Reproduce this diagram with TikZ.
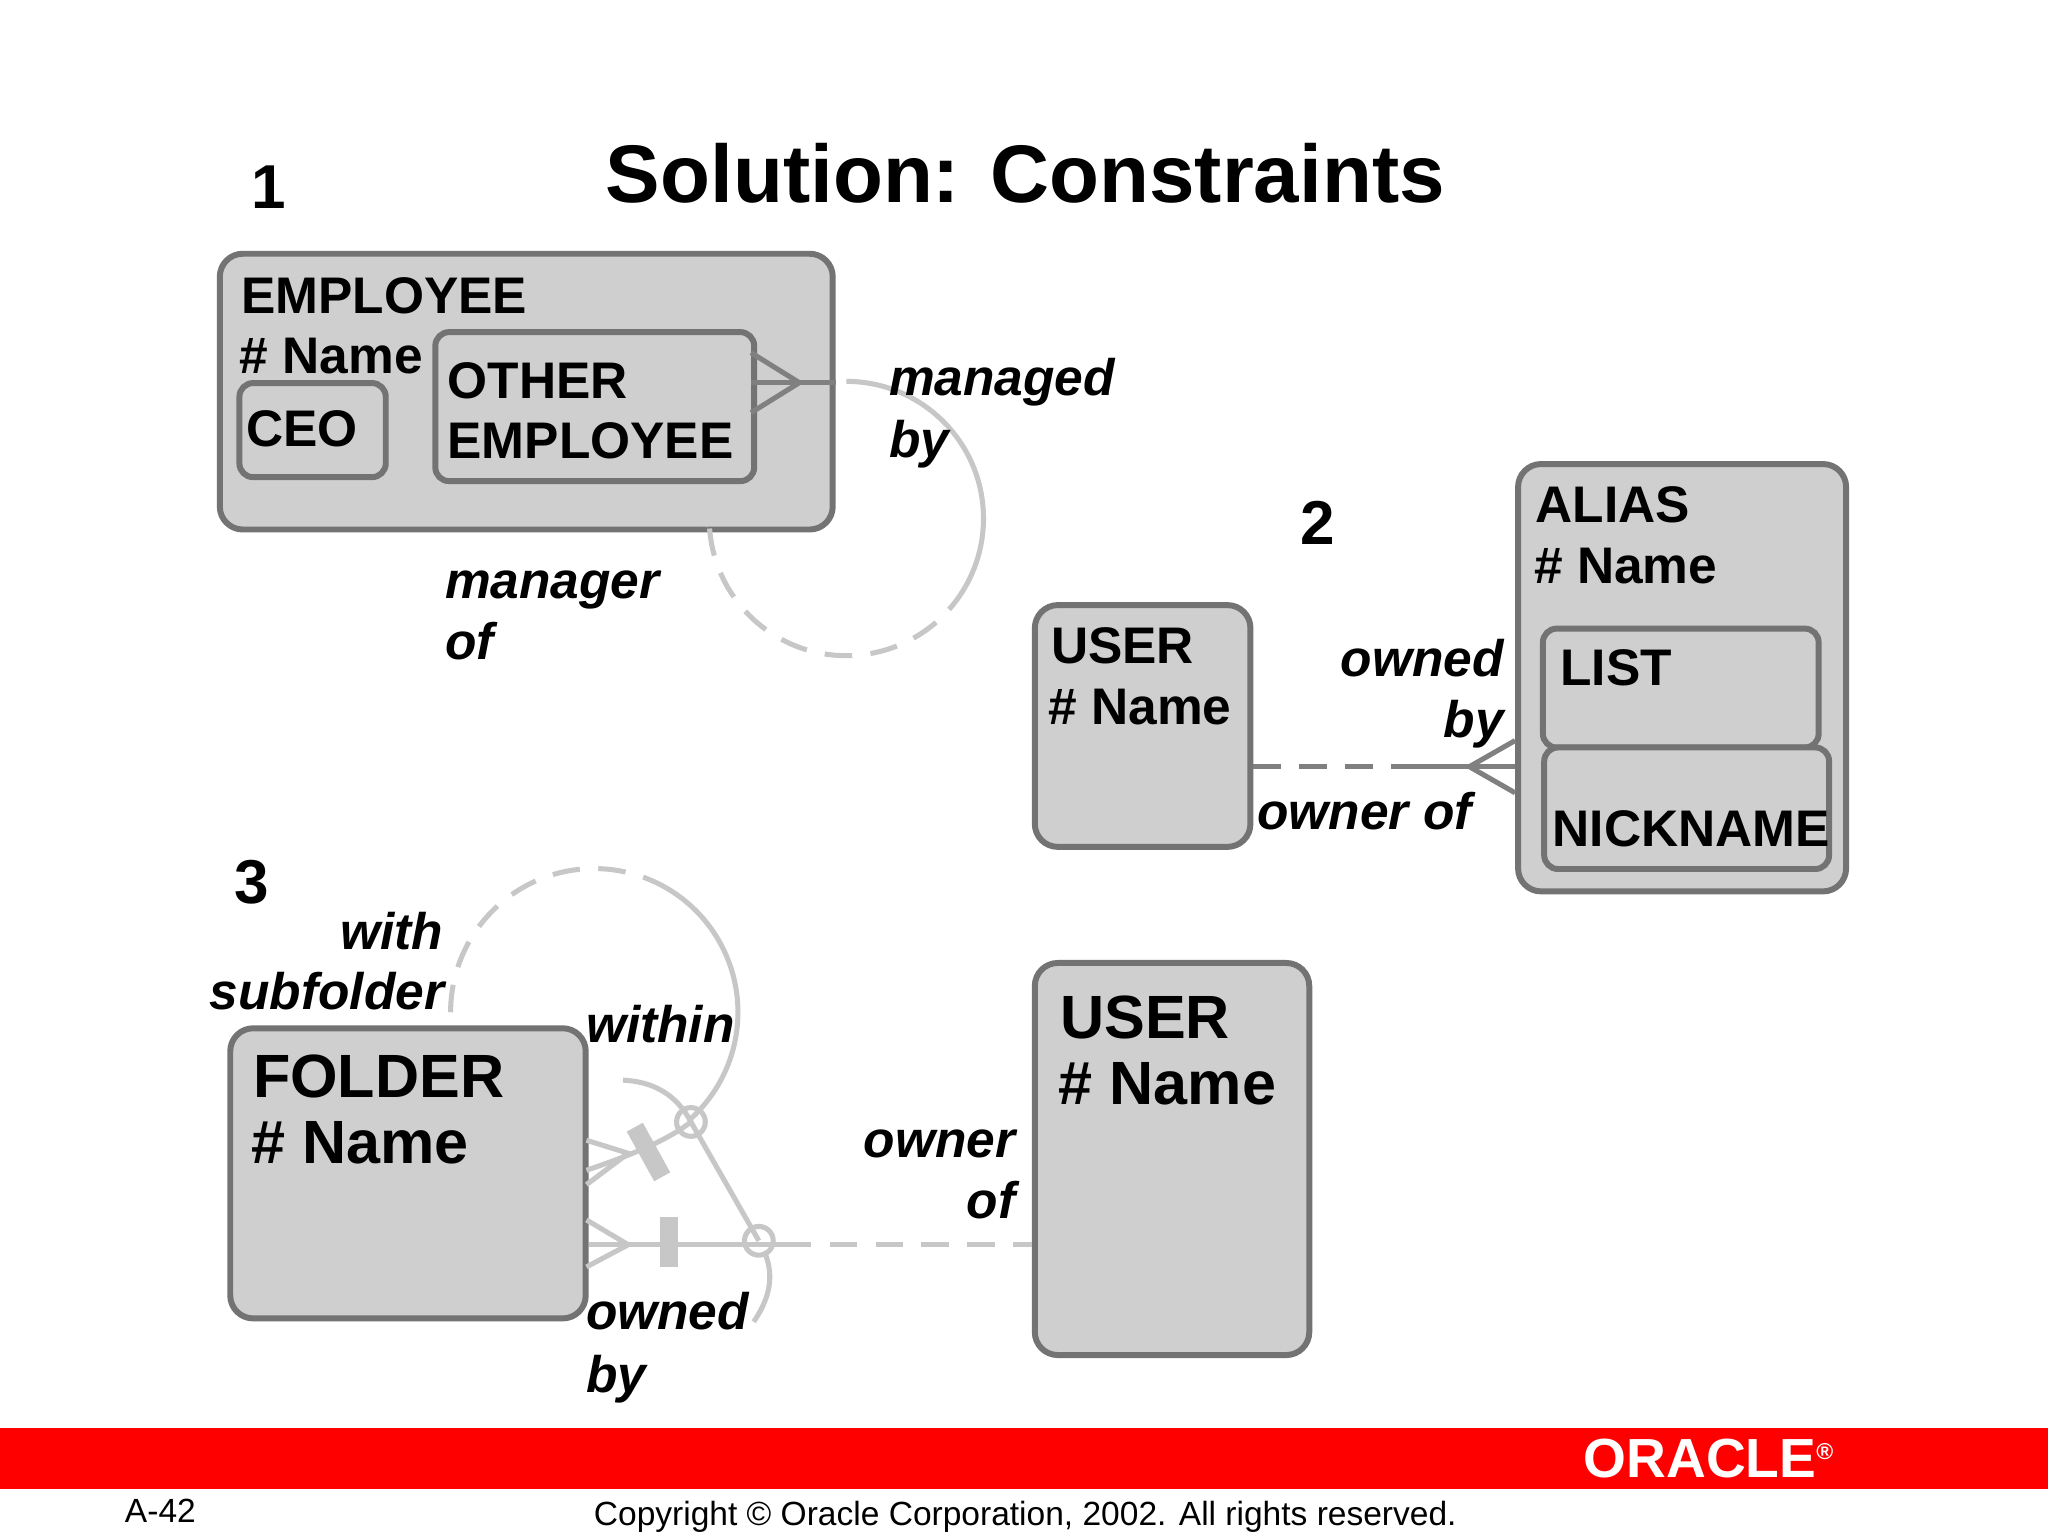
\documentclass[tikz,border=0pt]{standalone}
\usepackage{fontspec}
\setmainfont{Liberation Sans}
\begin{document}
\begin{tikzpicture}[x=0.01cm,y=-0.01cm,
  ent/.style={draw=black!55,line width=1.3pt,fill=black!19,rounded corners=5pt,inner sep=0pt},
  sub/.style={draw=black!55,line width=1.3pt,fill=black!19,rounded corners=3pt,inner sep=0pt},
  t/.style={anchor=base west,inner sep=0pt,font=\bfseries\fontsize{11.2}{14}\selectfont},
  tb/.style={anchor=base west,inner sep=0pt,font=\bfseries\fontsize{13.3}{17}\selectfont},
  lab/.style={anchor=base west,inner sep=0pt,font=\bfseries\itshape\fontsize{11.2}{14}\selectfont},
  labr/.style={lab,anchor=base east},
  rel/.style={draw=black!50,line width=1.1pt},
  lrel/.style={draw=black!22,line width=1.1pt},
  dsh/.style={dash pattern=on 6pt off 4pt}]
\useasboundingbox (0,0) rectangle (1568,1176);
\fill[white] (0,0) rectangle (1568,1176);
\node[anchor=base,inner sep=0pt,font=\bfseries\fontsize{17.8}{22}\selectfont] (title) at (785,155) {Solution: Constraints};
\node[t,font=\bfseries\fontsize{13.5}{16}\selectfont] (n1) at (192,160) {1};
% section 1
\node[ent,minimum width=4.69cm,minimum height=2.11cm,anchor=north west] (emp) at (166,192) {};
\node[t] (empt) at (184,240) {EMPLOYEE};
\node[t] (empn) at (183,286) {\# Name};
\node[sub,minimum width=1.12cm,minimum height=0.72cm,anchor=north west] (ceo) at (181,291) {};
\node[t] (ceot) at (188,342) {CEO};
\node[sub,minimum width=2.44cm,minimum height=1.14cm,anchor=north west] (oth) at (331,252) {};
\node[t] (otht1) at (342,305) {OTHER};
\node[t] (otht2) at (342,351) {EMPLOYEE};
\coordinate (c1) at (612,293);
\draw[rel] (575,270) -- (c1) -- (575,316);
\draw[rel] (575,293) -- (640,293);
\draw[lrel] (648,292) arc[start angle=-90,end angle=30,radius=105];
\draw[lrel,dsh] (648,397)++(30:105) arc[start angle=30,end angle=180,radius=105] -- (540,403);
\node[lab] (l1a) at (680,303) {managed};
\node[lab] (l1b) at (680,350) {by};
\node[lab] (l1c) at (340,458) {manager};
\node[lab] (l1d) at (340,505) {of};
% section 2
\node[t,font=\bfseries\fontsize{13.5}{16}\selectfont] (n2) at (995,417) {2};
\node[ent,minimum width=1.65cm,minimum height=1.85cm,anchor=north west] (user1) at (790,461) {};
\node[t] (u1t) at (804,508) {USER};
\node[t] (u1n) at (802,555) {\# Name};
\node[ent,minimum width=2.51cm,minimum height=3.27cm,anchor=north west] (alias) at (1160,353) {};
\node[t] (alt) at (1175,400) {ALIAS};
\node[t] (aln) at (1174,447) {\# Name};
\node[sub,minimum width=2.11cm,minimum height=0.91cm,anchor=north west] (list) at (1179,479) {};
\node[t] (listt) at (1194,525) {LIST};
\node[sub,minimum width=2.18cm,minimum height=0.93cm,anchor=north west] (nick) at (1180,570) {};
\node[t] (nickt) at (1188,648) {NICKNAME};
\coordinate (d2) at (1070,587);
\draw[rel,dsh] (user1.east|-d2) -- (d2);
\draw[rel] (d2) -- (alias.west|-d2);
\draw[rel] (1160,567) -- (1125,587) -- (1160,607);
\node[labr] (l2a) at (1152,518) {owned};
\node[labr] (l2b) at (1152,565) {by};
\node[lab] (l2c) at (962,635) {owner of};
% section 3
\node[t,font=\bfseries\fontsize{13.5}{16}\selectfont] (n3) at (179,692) {3};
\node[lab] (l3a) at (260,727) {with};
\node[lab] (l3b) at (160,773) {subfolder};
\node[ent,minimum width=2.72cm,minimum height=2.22cm,anchor=north west] (folder) at (174,785) {};
\node[tb] (ft) at (193,840) {FOLDER};
\node[tb] (fn) at (192,891) {\# Name};
\node[ent,minimum width=2.10cm,minimum height=3.00cm,anchor=north west] (user2) at (790,735) {};
\node[tb] (u2t) at (811,795) {USER};
\node[tb] (u2n) at (810,846) {\# Name};
\node[lab] (l3c) at (448,798) {within};
\node[lab] (l3d) at (448,1018) {owned};
\node[lab] (l3e) at (448,1066) {by};
\node[labr] (l3f) at (778,886) {owner};
\node[labr] (l3g) at (778,933) {of};
\coordinate (cu) at (529,859);
\coordinate (cl) at (581,950);
\coordinate (d3) at (600,953);
\draw[lrel] (449,873) -- (481,883) -- (449,907);
\draw[lrel] (449,896) .. controls (490,882) and (512,872) .. (cu) .. controls (518,838) and (500,828) .. (477,827);
\draw[lrel,line width=4pt] (486,863) -- (507,901);
\draw[lrel,dsh] (455,775)++(180:110) arc[start angle=180,end angle=300,radius=110];
\draw[lrel] (455,775)++(300:110) arc[start angle=300,end angle=408.6,radius=110];
\draw[lrel] (cu) circle (11);
\draw[lrel] (cu) -- (cl);
\draw[lrel] (449,934) -- (481,953) -- (449,970);
\draw[lrel] (folder.east|-d3) -- (d3);
\draw[lrel,line width=4pt] (512,932) -- (512,970);
\draw[lrel] (cl) circle (11);
\draw[lrel,dsh] (d3) -- (user2.west|-d3);
\draw[lrel] (585,958) .. controls (594,978) and (588,996) .. (577,1012);
% footer
\fill[red] (0,1093) rectangle (1568,1140);
\node[anchor=center,inner sep=0pt,text=white,font=\bfseries\fontsize{12}{14}\selectfont] (logo) at (1308,1117) {ORACLE\raisebox{4pt}{\fontsize{5}{6}\selectfont ®}};
\node[anchor=base west,inner sep=0pt,font=\fontsize{7.3}{9}\selectfont] (pg) at (95,1166) {A-42};
\node[anchor=base,inner sep=0pt,font=\fontsize{7.3}{9}\selectfont] (copy) at (785,1168) {Copyright © Oracle Corporation, 2002. All rights reserved.};
\end{tikzpicture}
\end{document}
